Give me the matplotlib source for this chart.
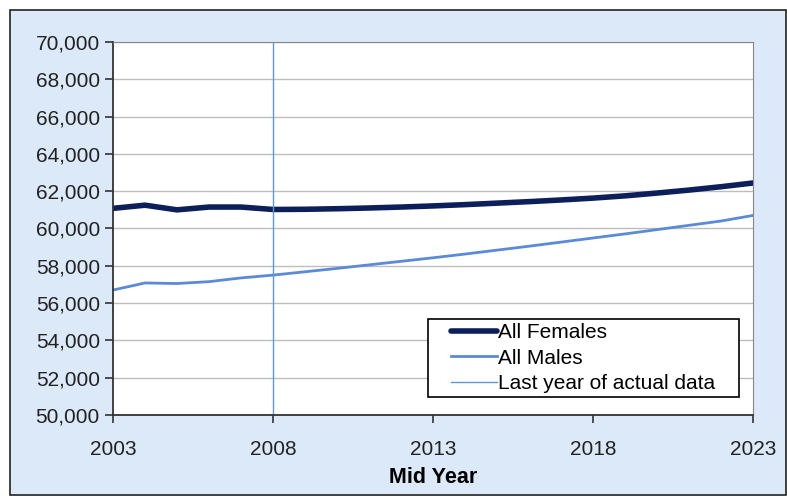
import numpy as np
import matplotlib.pyplot as plt
from matplotlib.patches import Rectangle
from matplotlib.ticker import FuncFormatter

plt.rcParams['font.family'] = ['Liberation Sans', 'DejaVu Sans']

years = np.arange(2003, 2024)
females = [61080, 61250, 61000, 61150, 61150, 61020, 61030, 61060, 61100, 61150,
           61210, 61280, 61360, 61440, 61530, 61630, 61750, 61900, 62060, 62240, 62440]
males = [56700, 57080, 57050, 57150, 57350, 57500, 57680, 57860, 58050, 58240,
         58430, 58630, 58840, 59050, 59270, 59490, 59710, 59940, 60170, 60400, 60700]
actual_end = 2008

fig = plt.figure(figsize=(7.87, 4.96), dpi=100)
fig.patch.set_facecolor('white')
# light blue chart frame
fig.patches.append(Rectangle((10/787, 1/496), 776/787, 485/496, transform=fig.transFigure,
                             facecolor='#dce9f8', edgecolor='#222222', linewidth=1.2, zorder=-1))

ax = fig.add_axes([113/787, 81/496, 640/787, 373/496])
ax.set_facecolor('white')

ax.plot(years, females, color='#0c1f5a', linewidth=4, label='All Females', solid_capstyle='round')
ax.plot(years, males, color='#5b8ad8', linewidth=2, label='All Males')
ax.axvline(actual_end, color='#5a9ad0', linewidth=1, label='Last year of actual data')

ax.set_xlim(2003, 2023)
ax.set_ylim(50000, 70000)
ax.set_xticks(np.arange(2003, 2024, 5))
ax.set_yticks(np.arange(50000, 70001, 2000))
ax.yaxis.set_major_formatter(FuncFormatter(lambda v, p: f'{int(v):,}'))
ax.grid(axis='y', color='#bdbdbd', linewidth=1)
ax.set_axisbelow(True)

for s in ['top', 'right']:
    ax.spines[s].set_color('#888888')
for s in ['left', 'bottom']:
    ax.spines[s].set_color('#333333')
    ax.spines[s].set_linewidth(1.3)

ax.tick_params(direction='out', length=6, width=1.2, colors='#333333', labelsize=15,
               labelcolor='#222222')
ax.tick_params(axis='x', pad=12)
ax.set_xlabel('Mid Year', fontsize=15.5, fontweight='bold', labelpad=6)

# legend box drawn separately so the entries sit centred inside it
leg_box = (0.492, 0.048, 0.486, 0.209)
ax.add_patch(Rectangle(leg_box[:2], leg_box[2], leg_box[3], transform=ax.transAxes,
                       facecolor='white', edgecolor='black', linewidth=1.2, zorder=5))
leg = ax.legend(loc='center', bbox_to_anchor=leg_box, fontsize=15, frameon=False,
                handlelength=2.2, handletextpad=0.05, labelspacing=0.3, borderpad=0.2)
leg.set_zorder(6)

fig.savefig('out.png', dpi=100)
